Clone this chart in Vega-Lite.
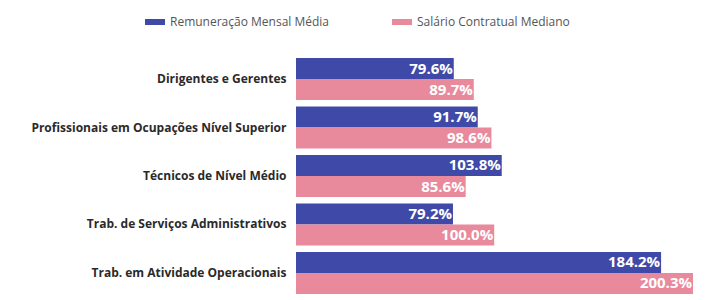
{
  "$schema": "https://vega.github.io/schema/vega-lite/v6.json",
  "width": 397,
  "height": 236,
  "autosize": {"type": "none"},
  "padding": {"left": 296, "top": 58, "right": 13, "bottom": 6},
  "background": "white",
  "config": {"view": {"stroke": null}, "font": "Open Sans"},
  "data": {
    "values": [
      {"cat": "Dirigentes e Gerentes", "serie": "Remuneração Mensal Média", "v": 0.796},
      {"cat": "Dirigentes e Gerentes", "serie": "Salário Contratual Mediano", "v": 0.897},
      {"cat": "Profissionais em Ocupações Nível Superior", "serie": "Remuneração Mensal Média", "v": 0.917},
      {"cat": "Profissionais em Ocupações Nível Superior", "serie": "Salário Contratual Mediano", "v": 0.986},
      {"cat": "Técnicos de Nível Médio", "serie": "Remuneração Mensal Média", "v": 1.038},
      {"cat": "Técnicos de Nível Médio", "serie": "Salário Contratual Mediano", "v": 0.856},
      {"cat": "Trab. de Serviços Administrativos", "serie": "Remuneração Mensal Média", "v": 0.792},
      {"cat": "Trab. de Serviços Administrativos", "serie": "Salário Contratual Mediano", "v": 1.0},
      {"cat": "Trab. em Atividade Operacionais", "serie": "Remuneração Mensal Média", "v": 1.842},
      {"cat": "Trab. em Atividade Operacionais", "serie": "Salário Contratual Mediano", "v": 2.003}
    ]
  },
  "encoding": {
    "y": {
      "field": "cat", "type": "nominal", "sort": null,
      "scale": {"paddingInner": 0.134, "paddingOuter": 0},
      "axis": {"title": null, "ticks": false, "domain": false, "labelPadding": 10,
               "labelFontWeight": "bold", "labelFontSize": 12, "labelColor": "#2a2a2a", "labelLimit": 400}
    },
    "yOffset": {"field": "serie", "type": "nominal", "scale": {"paddingInner": 0}},
    "x": {"field": "v", "type": "quantitative", "scale": {"domain": [0, 2.003], "nice": false}, "axis": null}
  },
  "layer": [
    {
      "mark": {"type": "bar"},
      "encoding": {
        "color": {
          "field": "serie", "type": "nominal",
          "scale": {"domain": ["Remuneração Mensal Média", "Salário Contratual Mediano"], "range": ["#3f4aa8", "#e88a9c"]},
          "legend": {
            "title": null, "orient": "none", "direction": "horizontal",
            "legendX": -151, "legendY": -46,
            "symbolType": "M-1,-0.3H1V0.3H-1Z", "symbolSize": 400, "symbolStrokeWidth": 0,
            "labelFontSize": 12, "labelColor": "#555", "labelOffset": 5, "columnPadding": 62
          }
        }
      }
    },
    {
      "mark": {"type": "text", "align": "right", "dx": -1, "color": "white", "fontWeight": "bold", "fontSize": 15, "baseline": "middle"},
      "encoding": {"text": {"field": "v", "type": "quantitative", "format": ".1%"}}
    }
  ]
}
